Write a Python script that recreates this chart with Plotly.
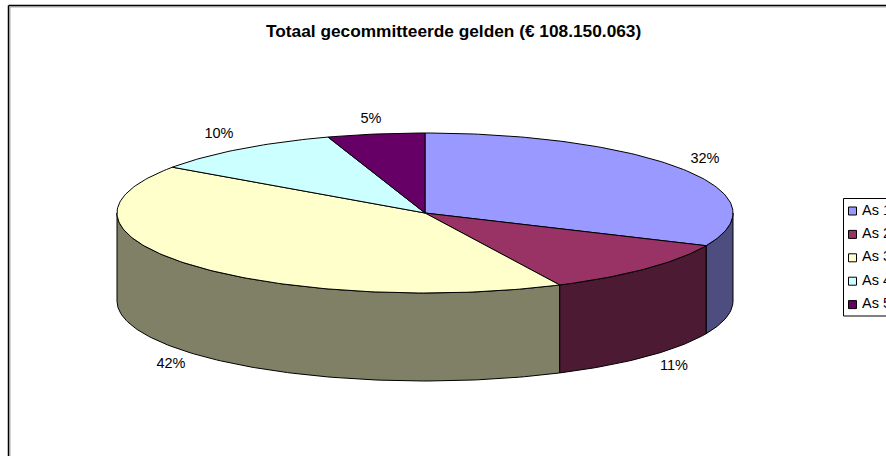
import math
import plotly.graph_objects as go

title = "Totaal gecommitteerde gelden (€ 108.150.063)"
categories = ["As 1", "As 2", "As 3", "As 4", "As 5"]
values = [31.7, 11.1, 41.9, 10.2, 5.1]
percent_labels = ["32%", "11%", "42%", "10%", "5%"]
top_colors = ["#9999FF", "#993366", "#FFFFCC", "#CCFFFF", "#660066"]
side_colors = ["#4D4D80", "#4D1A33", "#808066", "#668080", "#330033"]

W, H = 886, 456
CX, CY, RX, RY, DEPTH = 425, 213, 308, 80, 88
LABEL_XY = [(705, 159), (674, 366), (171, 364), (219, 134), (371, 119)]


def pt(a, dz=0):
    r = math.radians(a)
    return CX + RX * math.sin(r), CY - RY * math.cos(r) + dz


def arc(a0, a1, dz=0):
    n = max(2, int(abs(a1 - a0)) + 1)
    return [pt(a0 + (a1 - a0) * i / (n - 1), dz) for i in range(n)]


fig = go.Figure()
total = sum(values)
angles = [0]
for v in values:
    angles.append(angles[-1] + v / total * 360)


def poly(points, fill):
    xs = [p[0] for p in points]
    ys = [p[1] for p in points]
    fig.add_trace(go.Scatter(
        x=xs + xs[:1], y=ys + ys[:1], mode="lines", fill="toself", fillcolor=fill,
        line=dict(color="#000000", width=1), hoverinfo="skip", showlegend=False,
    ))


for i in range(len(values)):
    a0, a1 = max(angles[i], 90), min(angles[i + 1], 270)
    if a1 > a0:
        poly(arc(a0, a1) + arc(a1, a0, DEPTH), side_colors[i])

for i in range(len(values)):
    poly([(CX, CY)] + arc(angles[i], angles[i + 1]), top_colors[i])

fig.add_trace(go.Scatter(
    x=[p[0] for p in LABEL_XY], y=[p[1] for p in LABEL_XY], mode="text",
    text=percent_labels, textposition="middle center",
    textfont=dict(family="Liberation Sans", size=14.5, color="#000000"),
    hoverinfo="skip", showlegend=False,
))

LEG_X, LEG_TEXT_X, LEG_Y0, LEG_DY = 852.5, 862, 211, 23.4
legend_y = [LEG_Y0 + i * LEG_DY for i in range(5)]
fig.add_trace(go.Scatter(
    x=[LEG_X] * 5, y=legend_y, mode="markers",
    marker=dict(symbol="square", size=8, color=top_colors, line=dict(color="#000000", width=1)),
    hoverinfo="skip", showlegend=False,
))
fig.add_trace(go.Scatter(
    x=[LEG_TEXT_X] * 5, y=legend_y, mode="text",
    text=categories, textposition="middle right",
    textfont=dict(family="Liberation Sans", size=14.5, color="#000000"),
    hoverinfo="skip", showlegend=False,
))

fig.update_layout(
    width=W, height=H, margin=dict(l=0, r=0, t=0, b=0),
    paper_bgcolor="#FFFFFF", plot_bgcolor="#FFFFFF", showlegend=False,
    xaxis=dict(range=[0, W], visible=False, fixedrange=True),
    yaxis=dict(range=[H, 0], visible=False, fixedrange=True),
    annotations=[dict(
        text="<b>" + title + "</b>", x=453, y=31, xref="x", yref="y", showarrow=False,
        font=dict(family="Liberation Sans", size=17.3, color="#000000"),
    )],
    shapes=[
        dict(type="line", x0=10, x1=10, y0=7, y1=H, line=dict(color="#AAAAAA", width=1)),
        dict(type="line", x0=10, x1=W, y0=7, y1=7, line=dict(color="#AAAAAA", width=1)),
        dict(type="line", x0=8.5, x1=8.5, y0=5.5, y1=H, line=dict(color="#000000", width=1.5)),
        dict(type="line", x0=8.5, x1=W, y0=5.5, y1=5.5, line=dict(color="#000000", width=1.5)),
        dict(type="rect", x0=843.5, x1=W + 5, y0=198.5, y1=316, line=dict(color="#000000", width=1)),
    ],
)
fig.write_html("out.html", config={"displayModeBar": False},
               post_script="document.body.style.margin='0';document.documentElement.style.overflow='hidden';")
